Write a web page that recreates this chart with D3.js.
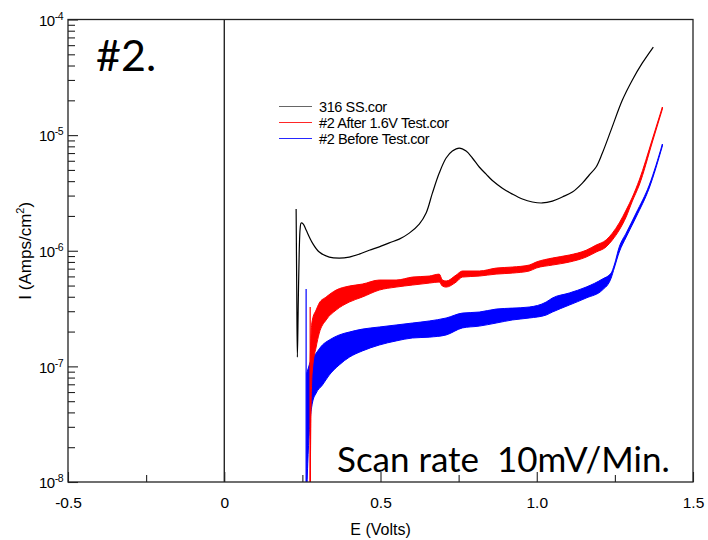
<!DOCTYPE html>
<html>
<head>
<meta charset="utf-8">
<script src="https://cdn.jsdelivr.net/npm/d3@7"></script>
<style>
  html, body { margin: 0; padding: 0; background: #fff; }
  svg { display: block; }
</style>
</head>
<body>
<svg id="chart" width="708" height="540"></svg>
<script>
// Potentiodynamic polarisation scans: potential E (V) vs current density I (A/cm²)

// 316 SS reference scan (single trace)
const eSteel = [0.230, 0.232, 0.234, 0.237, 0.240, 0.243, 0.246, 0.253, 0.262, 0.282,
  0.304, 0.336, 0.368, 0.400, 0.432, 0.464, 0.496, 0.528, 0.560, 0.592,
  0.624, 0.646, 0.666, 0.688, 0.710, 0.730, 0.752, 0.774, 0.794, 0.816,
  0.838, 0.858, 0.890, 0.922, 0.954, 0.986, 1.018, 1.050, 1.082, 1.114,
  1.146, 1.168, 1.190, 1.210, 1.238, 1.274, 1.306, 1.338, 1.373];
const iSteel = [2.30e-6, 4.57e-7, 1.20e-7, 3.75e-7, 1.01e-6, 1.57e-6, 1.74e-6, 1.70e-6, 1.51e-6, 1.17e-6,
  9.75e-7, 8.82e-7, 8.64e-7, 8.82e-7, 9.35e-7, 1.01e-6, 1.08e-6, 1.17e-6, 1.26e-6, 1.42e-6,
  1.70e-6, 2.12e-6, 3.15e-6, 4.70e-6, 6.34e-6, 7.28e-6, 7.73e-6, 7.28e-6, 6.34e-6, 5.30e-6,
  4.60e-6, 4.05e-6, 3.48e-6, 3.09e-6, 2.80e-6, 2.64e-6, 2.59e-6, 2.69e-6, 2.92e-6, 3.22e-6,
  3.85e-6, 4.52e-6, 5.30e-6, 7.00e-6, 1.11e-5, 2.01e-5, 3.00e-5, 4.21e-5, 5.78e-5];

// #2 after 1.6 V test: cathodic branch, then noisy anodic band (low / high envelope)
const eAfterStart = [0.275, 0.275];
const iAfterStart = [3.26e-7, 8.5e-9];
const eAfter = [0.275, 0.278, 0.282, 0.294, 0.304, 0.326, 0.358, 0.400, 0.442, 0.496,
  0.550, 0.602, 0.656, 0.688, 0.698, 0.710, 0.742, 0.762, 0.816, 0.870,
  0.922, 0.976, 0.998, 1.050, 1.104, 1.158, 1.190, 1.222, 1.242, 1.264,
  1.286, 1.306, 1.328, 1.370, 1.402];
const iAfterHigh = [1.13e-7, 1.94e-7, 2.52e-7, 3.07e-7, 3.53e-7, 3.98e-7, 4.57e-7, 4.95e-7, 5.15e-7, 5.58e-7,
  5.58e-7, 5.92e-7, 6.04e-7, 6.28e-7, 5.58e-7, 5.47e-7, 6.16e-7, 6.68e-7, 6.68e-7, 7.08e-7,
  7.23e-7, 7.52e-7, 7.98e-7, 8.65e-7, 9.18e-7, 1.01e-6, 1.12e-6, 1.24e-6, 1.42e-6, 1.74e-6,
  2.25e-6, 2.91e-6, 4.09e-6, 9.25e-6, 1.75e-5];
const iAfterLow = [8.5e-9, 4.81e-8, 9.29e-8, 1.47e-7, 1.94e-7, 2.52e-7, 3.07e-7, 3.60e-7, 3.98e-7, 4.57e-7,
  4.85e-7, 5.05e-7, 5.25e-7, 5.36e-7, 4.95e-7, 4.85e-7, 5.36e-7, 5.92e-7, 6.04e-7, 6.28e-7,
  6.41e-7, 6.68e-7, 7.08e-7, 7.52e-7, 7.98e-7, 8.82e-7, 9.74e-7, 1.08e-6, 1.24e-6, 1.51e-6,
  1.96e-6, 2.69e-6, 3.70e-6, 8.72e-6, 1.68e-5];

// #2 before test: cathodic branch, then noisy anodic band (low / high envelope)
const eBeforeStart = [0.262, 0.262];
const iBeforeStart = [4.66e-7, 8.5e-9];
const eBefore = [0.264, 0.269, 0.275, 0.282, 0.294, 0.314, 0.336, 0.368, 0.400, 0.442,
  0.496, 0.550, 0.602, 0.656, 0.710, 0.762, 0.816, 0.870, 0.922, 0.976,
  1.030, 1.050, 1.104, 1.158, 1.210, 1.238, 1.248, 1.264, 1.286, 1.318,
  1.360, 1.402];
const iBeforeHigh = [8.75e-8, 9.67e-8, 1.09e-7, 1.18e-7, 1.30e-7, 1.53e-7, 1.69e-7, 1.87e-7, 1.98e-7, 2.10e-7,
  2.19e-7, 2.28e-7, 2.37e-7, 2.47e-7, 2.62e-7, 2.89e-7, 2.95e-7, 3.13e-7, 3.19e-7, 3.26e-7,
  3.60e-7, 3.90e-7, 4.31e-7, 4.85e-7, 5.69e-7, 6.41e-7, 7.52e-7, 1.08e-6, 1.42e-6, 2.12e-6,
  3.70e-6, 8.37e-6];
const iBeforeLow = [8.5e-9, 1.89e-8, 3.43e-8, 4.81e-8, 5.87e-8, 6.89e-8, 8.41e-8, 1.03e-7, 1.20e-7, 1.36e-7,
  1.53e-7, 1.66e-7, 1.76e-7, 1.79e-7, 1.87e-7, 2.15e-7, 2.23e-7, 2.37e-7, 2.52e-7, 2.62e-7,
  2.78e-7, 2.95e-7, 3.39e-7, 3.90e-7, 4.57e-7, 5.80e-7, 7.08e-7, 9.74e-7, 1.31e-6, 1.96e-6,
  3.49e-6, 8.05e-6];

// axis ticks
const xMajorTicks = [-0.5, 0, 0.5, 1.0, 1.5];
const xTickLabels = ["-0.5", "0", "0.5", "1.0", "1.5"];
const xMinorTicks = [-0.25, 0.25, 0.75, 1.25];
const yDecades = [1e-8, 1e-7, 1e-6, 1e-5, 1e-4];
const yExponents = ["-8", "-7", "-6", "-5", "-4"];

const legendNames = ["316 SS.cor", "#2 After 1.6V Test.cor", "#2 Before Test.cor"];
const seriesColors = ["#000000", "#ff0000", "#0000ff"];

// ---------------------------------------------------------------
const svg = d3.select("#chart");
const plot = { left: 68, top: 19.5, right: 693, bottom: 482 };

const x = d3.scaleLinear().domain([-0.5, 1.5]).range([plot.left, plot.right]);
const y = d3.scaleLog().domain([1e-8, 1e-4]).range([plot.bottom, plot.top]);

svg.append("defs").append("clipPath").attr("id", "plotClip")
  .append("rect")
  .attr("x", plot.left).attr("y", plot.top)
  .attr("width", plot.right - plot.left).attr("height", plot.bottom - plot.top);

const data = svg.append("g").attr("clip-path", "url(#plotClip)");

// zero-potential reference line
data.append("line")
  .attr("x1", x(0)).attr("x2", x(0))
  .attr("y1", plot.top).attr("y2", plot.bottom)
  .attr("stroke", "#000").attr("stroke-width", 1.2);

const zip = (es, is) => es.map((e, k) => ({ e, i: is[k] }));
const zipBand = (es, lo, hi) => es.map((e, k) => ({ e, lo: lo[k], hi: hi[k] }));

const line = d3.line().x(d => x(d.e)).y(d => y(d.i)).curve(d3.curveCatmullRom.alpha(0.5));
const straight = d3.line().x(d => x(d.e)).y(d => y(d.i));
const band = d3.area().x(d => x(d.e)).y0(d => y(d.lo)).y1(d => y(d.hi)).curve(d3.curveMonotoneX);

// before-test band (blue)
data.append("path").datum(zipBand(eBefore, iBeforeLow, iBeforeHigh))
  .attr("d", band).attr("fill", seriesColors[2])
  .attr("stroke", seriesColors[2]).attr("stroke-width", 1);
data.append("path").datum(zip(eBeforeStart, iBeforeStart))
  .attr("d", straight)
  .attr("fill", "none").attr("stroke", seriesColors[2]).attr("stroke-width", 1.2);

// after-test band (red)
data.append("path").datum(zipBand(eAfter, iAfterLow, iAfterHigh))
  .attr("d", band).attr("fill", seriesColors[1])
  .attr("stroke", seriesColors[1]).attr("stroke-width", 1);
data.append("path").datum(zip(eAfterStart, iAfterStart))
  .attr("d", straight)
  .attr("fill", "none").attr("stroke", seriesColors[1]).attr("stroke-width", 1.2);

// 316 SS trace (black)
data.append("path").datum(zip(eSteel, iSteel))
  .attr("d", line).attr("fill", "none")
  .attr("stroke", seriesColors[0]).attr("stroke-width", 1.2);

// ---------------------------------------------------------------
// frame
svg.append("rect")
  .attr("x", plot.left).attr("y", plot.top)
  .attr("width", plot.right - plot.left).attr("height", plot.bottom - plot.top)
  .attr("fill", "none").attr("stroke", "#222").attr("stroke-width", 1.3);

const tickFont = "'Liberation Sans', Arial, sans-serif";

// x axis: major ticks with labels, minor ticks without
const xAxis = svg.append("g").attr("transform", `translate(0,${plot.bottom})`)
  .call(d3.axisBottom(x).tickValues(xMajorTicks)
    .tickSizeInner(-10).tickSizeOuter(0).tickPadding(15)
    .tickFormat((d, k) => xTickLabels[k]));
svg.append("g").attr("transform", `translate(0,${plot.bottom})`)
  .call(d3.axisBottom(x).tickValues(xMinorTicks)
    .tickSizeInner(-7).tickSizeOuter(0).tickFormat(""));

// y axis: decades labelled as powers of ten, minor ticks at 2..9
const yMinorTicks = [];
yDecades.slice(0, -1).forEach(dec => {
  for (let m = 2; m <= 9; m++) yMinorTicks.push(dec * m);
});
const yAxis = svg.append("g").attr("transform", `translate(${plot.left},0)`)
  .call(d3.axisLeft(y).tickValues(yDecades)
    .tickSizeInner(-10).tickSizeOuter(0).tickPadding(5).tickFormat(""));
svg.append("g").attr("transform", `translate(${plot.left},0)`)
  .call(d3.axisLeft(y).tickValues(yMinorTicks)
    .tickSizeInner(-7).tickSizeOuter(0).tickFormat(""));

svg.selectAll(".domain").attr("stroke", "none");
svg.selectAll(".tick line").attr("stroke", "#222").attr("stroke-width", 1.1);

xAxis.selectAll(".tick text")
  .attr("font-family", tickFont).attr("font-size", 15.5).attr("fill", "#000");

yAxis.selectAll(".tick text").each(function (d, k) {
  const t = d3.select(this)
    .attr("font-family", tickFont).attr("font-size", 15).attr("fill", "#000")
    .attr("dy", "0.38em").attr("letter-spacing", "-0.5px");
  t.text(null);
  t.append("tspan").text("10");
  t.append("tspan").attr("font-size", 10.5).attr("dy", -6).text(yExponents[k]);
});

// axis titles
svg.append("text")
  .attr("x", x(0.5)).attr("y", 535)
  .attr("text-anchor", "middle")
  .attr("font-family", tickFont).attr("font-size", 16).attr("fill", "#000")
  .text("E (Volts)");

const yTitle = svg.append("text")
  .attr("transform", `translate(31,${y(1e-6)}) rotate(-90)`)
  .attr("text-anchor", "middle")
  .attr("font-family", tickFont).attr("font-size", 17).attr("fill", "#000");
yTitle.append("tspan").text("I (Amps/cm");
yTitle.append("tspan").attr("font-size", 11).attr("dy", -7).text("2");
yTitle.append("tspan").attr("dy", 7).text(")");

// legend
const legend = svg.append("g").attr("transform", "translate(279,106.5)");
legendNames.forEach((name, k) => {
  const row = legend.append("g").attr("transform", `translate(0,${k * 16})`);
  row.append("line").attr("x1", 0).attr("x2", 33).attr("y1", 0).attr("y2", 0)
    .attr("stroke", seriesColors[k]).attr("stroke-width", 1.2)
    .attr("stroke-opacity", k === 0 ? 0.6 : 0.85);
  row.append("text").attr("x", 40).attr("y", 0).attr("dy", "0.36em")
    .attr("font-family", tickFont).attr("font-size", 14.5)
    .attr("letter-spacing", "-0.4px").attr("fill", "#000")
    .text(name);
});

// annotations
const noteFont = "Lato, 'Open Sans', sans-serif";
svg.append("text")
  .attr("x", 96).attr("y", 71)
  .attr("font-family", noteFont).attr("font-size", 43).attr("fill", "#000")
  .text("#2.");
svg.append("text")
  .attr("x", 337).attr("y", 472)
  .attr("font-family", noteFont).attr("font-size", 35).attr("fill", "#000")
  .style("white-space", "pre")
  .text("Scan rate  10mV/Min.");
</script>
</body>
</html>
